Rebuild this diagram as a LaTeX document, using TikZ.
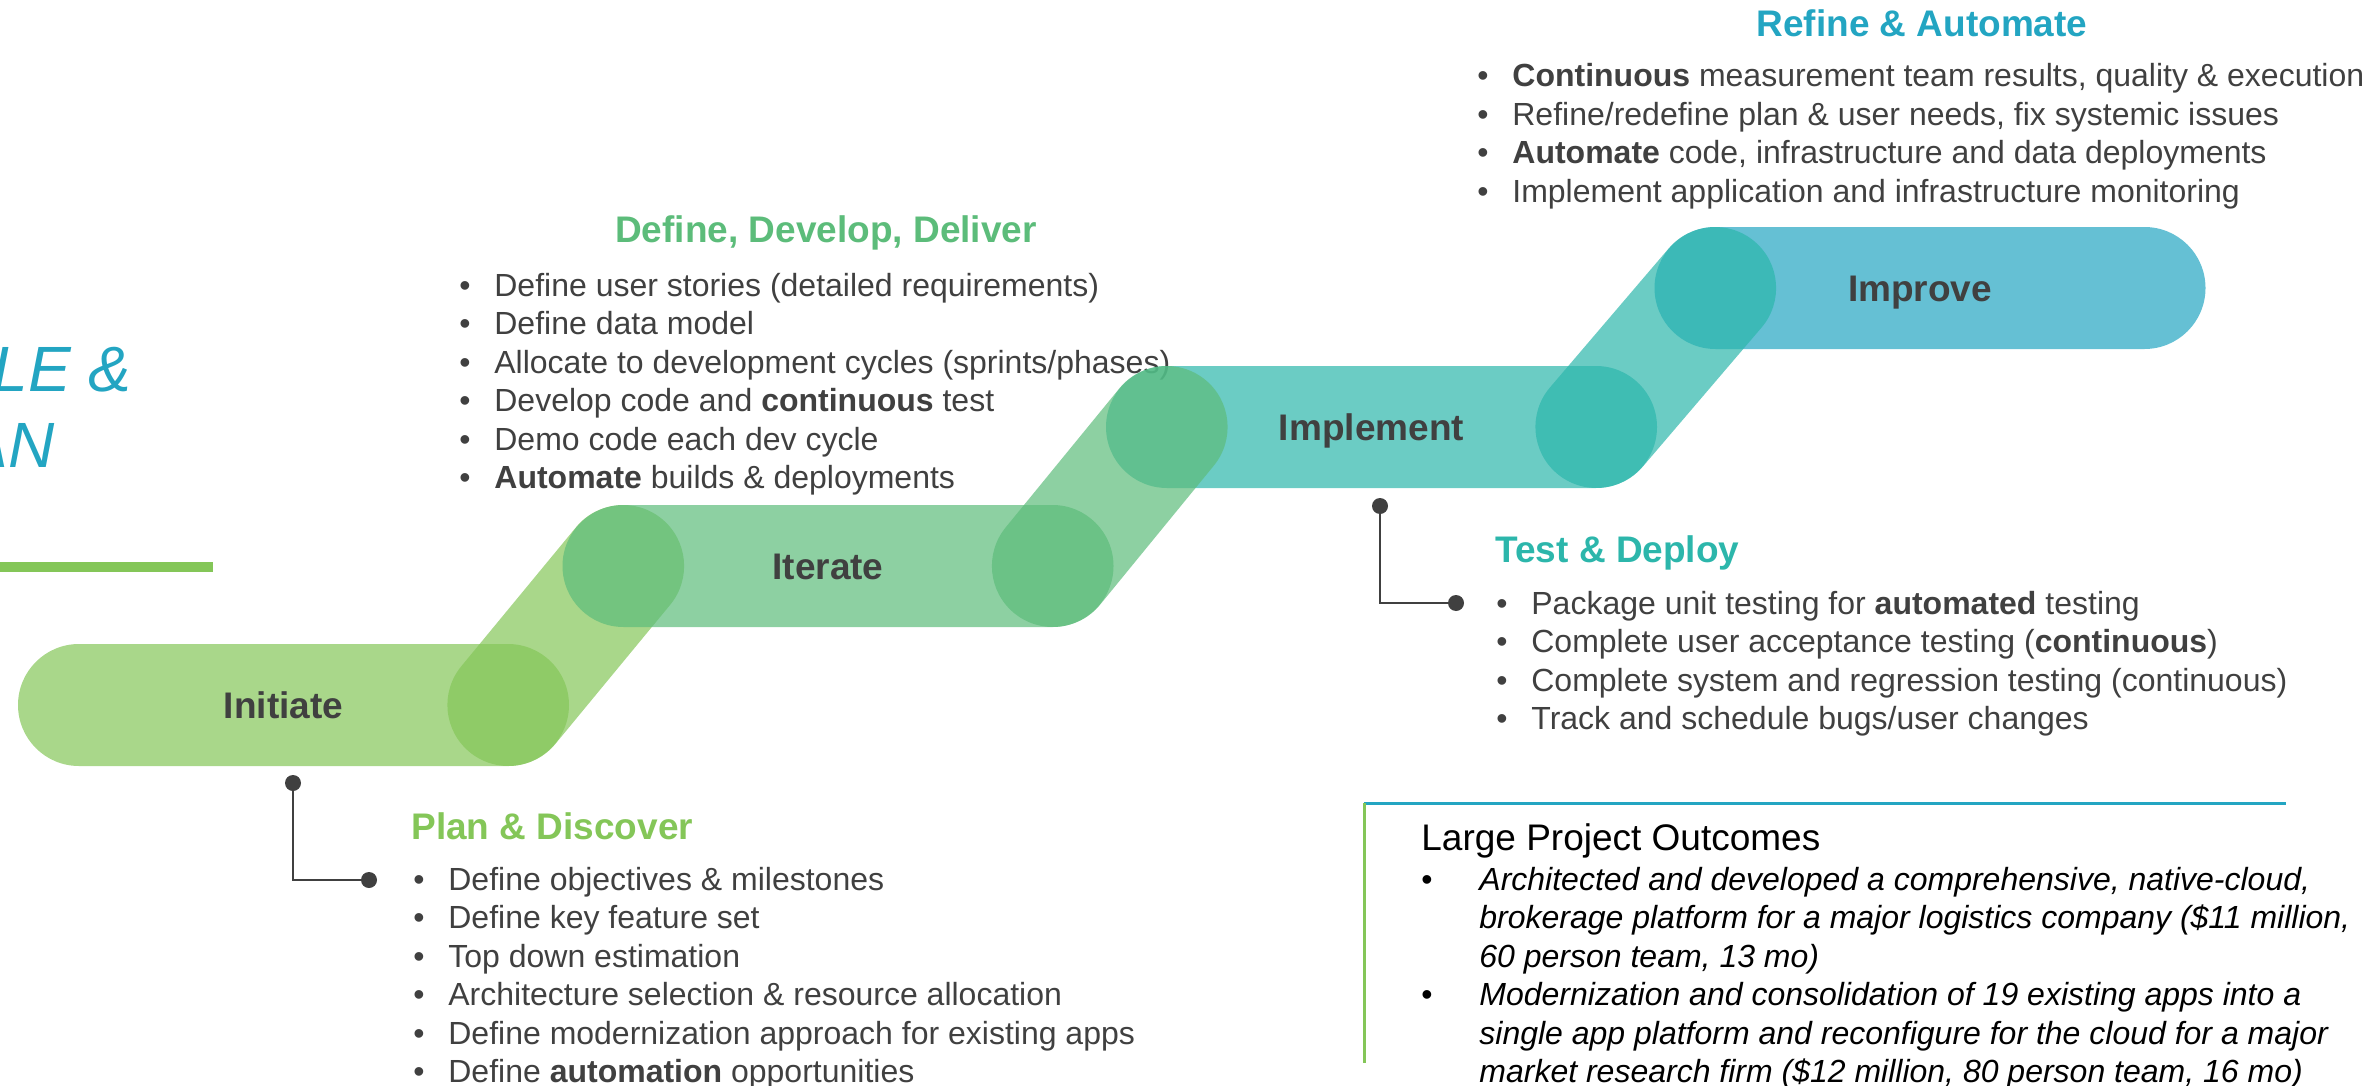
\documentclass[tikz,border=0pt]{standalone}
\usepackage{fontspec}
\setmainfont{Liberation Sans}
\usetikzlibrary{positioning}
\definecolor{initgreen}{RGB}{132,198,88}
\definecolor{itergreen}{RGB}{92,188,122}
\definecolor{impteal}{RGB}{44,182,171}
\definecolor{impblue}{RGB}{35,165,194}
\definecolor{txtgray}{RGB}{64,64,64}
\pgfdeclarelayer{bandback}
\pgfdeclarelayer{bandfront}
\pgfsetlayers{bandback,main,bandfront}
\tikzset{
pill/.style={rectangle, rounded corners=30.5pt, minimum width=275.5pt, minimum height=61pt, inner sep=0pt,
  fill opacity=0.7, text opacity=1, text=txtgray, font=\bfseries\fontsize{18.5}{22}\selectfont,
  text height=13.3pt, text depth=0pt},
band/.style={line width=61pt, line cap=round, draw opacity=0.7},
dot/.style={circle, fill=txtgray, minimum size=8pt, inner sep=0pt},
leader/.style={draw=txtgray, line width=1pt},
heading/.style={font=\bfseries\fontsize{18.5}{22}\selectfont, inner sep=0pt, anchor=base west},
steplist/.style={font=\fontsize{16}{19.25}\selectfont, text=txtgray, inner sep=0pt, anchor=base west}}

\begin{document}
\begin{tikzpicture}[x=0.5pt,y=-0.5pt]
    \useasboundingbox (0,0) rectangle (2377,1086);

                \node[font=\itshape\fontsize{32}{38}\selectfont, text=impblue, anchor=base east, inner sep=0pt] (titleA) at (132,391) {LE \&};
                \node[font=\itshape\fontsize{32}{38}\selectfont, text=impblue, anchor=base east, inner sep=0pt] (titleB) at (55,467) {AN};
                \draw[initgreen, line width=5pt] (0,567) -- (213,567);

                \node[heading, text=impblue, anchor=base] (refineH) at (1922,37) {Refine \& Automate};
                \node[steplist] (refine) at (1477,87) {\begin{tabular}[t]{@{}p{17.5pt}@{}l@{}}
                    \textbullet & \textbf{Continuous} measurement team results, quality \& execution\\
                    \textbullet & Refine/redefine plan \& user needs, fix systemic issues\\
                    \textbullet & \textbf{Automate} code, infrastructure and data deployments\\
                    \textbullet & Implement application and infrastructure monitoring
                \end{tabular}};

                \node[heading, text=itergreen, anchor=base] (dddH) at (826,242) {Define, Develop, Deliver};
                \node[steplist] (ddd) at (459,296) {\begin{tabular}[t]{@{}p{17.5pt}@{}l@{}}
                    \textbullet & Define user stories (detailed requirements)\\
                    \textbullet & Define data model\\
                    \textbullet & Allocate to development cycles (sprints/phases)\\
                    \textbullet & Develop code and \textbf{continuous} test\\
                    \textbullet & Demo code each dev cycle\\
                    \textbullet & \textbf{Automate} builds \& deployments
                \end{tabular}};

                \node[heading, text=impteal] (testH) at (1495,562) {Test \& Deploy};
                \node[steplist] (test) at (1496,614) {\begin{tabular}[t]{@{}p{17.5pt}@{}l@{}}
                    \textbullet & Package unit testing for \textbf{automated} testing\\
                    \textbullet & Complete user acceptance testing (\textbf{continuous})\\
                    \textbullet & Complete system and regression testing (continuous)\\
                    \textbullet & Track and schedule bugs/user changes
                \end{tabular}};

                \node[heading, text=initgreen] (planH) at (411,839) {Plan \& Discover};
                \node[steplist] (plan) at (413,890) {\begin{tabular}[t]{@{}p{17.5pt}@{}l@{}}
                    \textbullet & Define objectives \& milestones\\
                    \textbullet & Define key feature set\\
                    \textbullet & Top down estimation\\
                    \textbullet & Architecture selection \& resource allocation\\
                    \textbullet & Define modernization approach for existing apps\\
                    \textbullet & Define \textbf{automation} opportunities
                \end{tabular}};

                \draw[impblue, line width=1.5pt] (1364,803) -- (2286,803);
                \draw[initgreen, line width=1.5pt] (1364,803) -- (1364,1063);
                \node[font=\fontsize{18.5}{22}\selectfont, inner sep=0pt, anchor=base west] (outH) at (1421,850) {Large Project Outcomes};
                \node[steplist, text=black] (outcomes) at (1421,890) {\begin{tabular}[t]{@{}p{29pt}@{}l@{}}
                    \textbullet & \itshape Architected and developed a comprehensive, native-cloud,\\
                     & \itshape brokerage platform for a major logistics company (\$11 million,\\
                     & \itshape 60 person team, 13 mo)\\
                    \textbullet & \itshape Modernization and consolidation of 19 existing apps into a\\
                     & \itshape single app platform and reconfigure for the cloud for a major\\
                     & \itshape market research firm (\$12 million, 80 person team, 16 mo)
                \end{tabular}};

                \node[pill, fill=initgreen] (init) at (293.5,705) {Initiate\hspace*{10pt}};
                \node[pill, fill=itergreen] (iter) at (838,566) {Iterate\hspace*{10pt}};
                \node[pill, fill=impteal] (impl) at (1381.5,427) {Implement\hspace*{10pt}};
                \node[pill, fill=impblue] (impr) at (1930,288) {Improve\hspace*{10pt}};

                \begin{pgfonlayer}{bandback}
                \draw[band, initgreen] ([xshift=-30.5pt]init.east) -- ([xshift=30.5pt]iter.west);
                \end{pgfonlayer}
                \begin{pgfonlayer}{bandfront}
                \draw[band, itergreen] ([xshift=-30.5pt]iter.east) -- ([xshift=30.5pt]impl.west);
                \draw[band, impteal] ([xshift=-30.5pt]impl.east) -- ([xshift=30.5pt]impr.west);
                \end{pgfonlayer}

                \node[dot] (initA) at (293,783) {};
                \node[dot] (initB) at (369,880) {};
                \draw[leader] (initA) |- (initB);
                \node[dot] (implA) at (1380,506) {};
                \node[dot] (implB) at (1456,603) {};
                \draw[leader] (implA) |- (implB);

\end{tikzpicture}
\end{document}
